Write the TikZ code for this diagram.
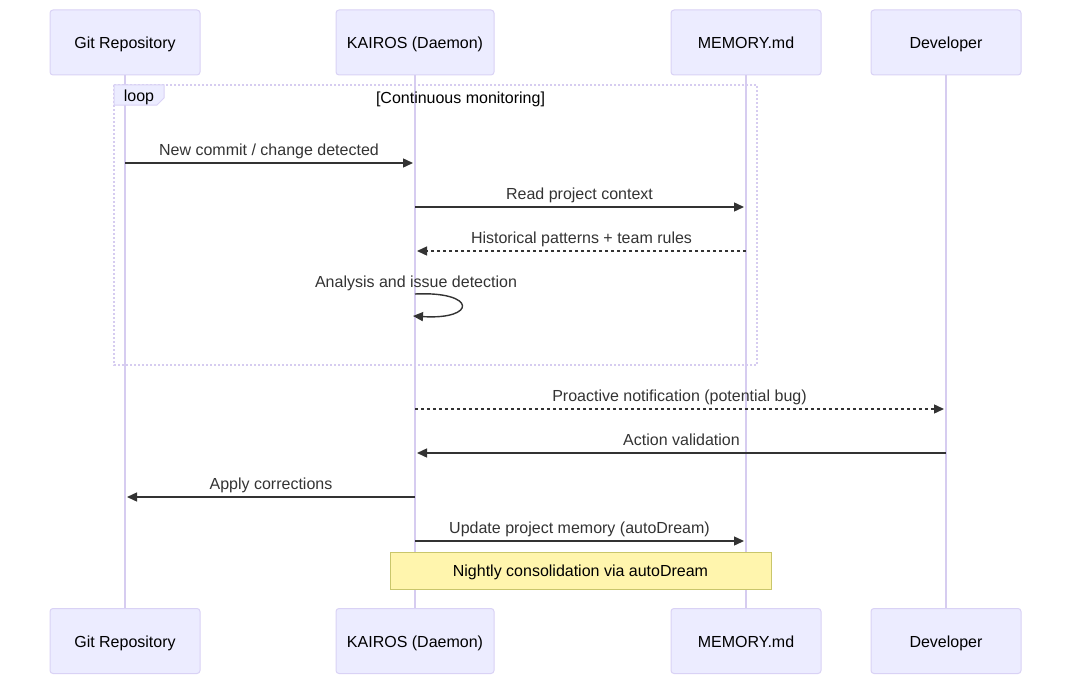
\documentclass[tikz,border=0pt]{standalone}
\usepackage{fontspec}
\setmainfont{Liberation Sans}
\usetikzlibrary{arrows.meta}
\definecolor{actfill}{HTML}{ECECFF}
\definecolor{actdraw}{HTML}{D9D2F5}
\definecolor{life}{HTML}{D6CCF0}
\definecolor{msg}{HTML}{333333}
\definecolor{notefill}{HTML}{FFF5AD}
\definecolor{notedraw}{HTML}{C9C66B}
\begin{document}
\begin{tikzpicture}[x=1pt,y=-1pt,
  font=\fontsize{16}{19}\selectfont,
  actor/.style={draw=actdraw, fill=actfill, rounded corners=3pt, minimum width=150pt, minimum height=65pt, line width=1pt, text=black, inner sep=0pt, text height=12pt, text depth=0pt},
  lifeline/.style={draw=life, line width=1.4pt},
  msgline/.style={draw=msg, line width=1.4pt, -{Triangle[length=10pt,width=9pt]}},
  dashmsg/.style={msgline, dash pattern=on 3pt off 3pt},
  msglabel/.style={anchor=base, yshift=8pt, text=msg, inner sep=0pt},
  loopframe/.style={draw=life, line width=1.6pt, dash pattern=on 2pt off 2pt},
  looptag/.style={draw=actdraw, fill=actfill, line width=1pt},
  notebox/.style={draw=notedraw, fill=notefill, line width=1pt, minimum width=381pt, minimum height=37pt, inner sep=0pt, text=black, text height=12pt, text depth=0pt}
]
\useasboundingbox (0,0) rectangle (1071,685);
% actors top
\node[actor] (gitT) at (125,42.5) {Git Repository};
\node[actor, minimum width=158pt] (kaiT) at (415,42.5) {KAIROS (Daemon)};
\node[actor] (memT) at (746,42.5) {MEMORY.md};
\node[actor] (devT) at (946,42.5) {Developer};
% actors bottom
\node[actor] (gitB) at (125,641) {Git Repository};
\node[actor, minimum width=158pt] (kaiB) at (415,641) {KAIROS (Daemon)};
\node[actor] (memB) at (746,641) {MEMORY.md};
\node[actor] (devB) at (946,641) {Developer};
% lifelines
\draw[lifeline] (gitT.south) -- (gitB.north);
\draw[lifeline] (kaiT.south) -- (kaiB.north);
\draw[lifeline] (memT.south) -- (memB.north);
\draw[lifeline] (devT.south) -- (devB.north);
% loop frame
\coordinate (lpA) at (114,85);
\coordinate (lpB) at (757,365);
\draw[loopframe] (lpA) rectangle (lpB);
\draw[looptag] (114,85) -- (164,85) -- (164,98) -- (157,105) -- (114,105) -- cycle;
\node[inner sep=0pt, text=black, anchor=base] (looplbl) at (139,102) {loop};
\node[inner sep=0pt, text=black, anchor=base] (loopcond) at (460.5,103.5) {[Continuous monitoring]};
% messages
\coordinate (m1s) at (125,163); \coordinate (m1e) at (413,163);
\draw[msgline] (m1s) -- node[msglabel] (t1) {New commit / change detected} (m1e);
\coordinate (m2s) at (415,207); \coordinate (m2e) at (744,207);
\draw[msgline] (m2s) -- node[msglabel] (t2) {Read project context} (m2e);
\coordinate (m3s) at (746,251); \coordinate (m3e) at (417,251);
\draw[dashmsg] (m3s) -- node[msglabel] (t3) {Historical patterns + team rules} (m3e);
\node[anchor=base, inner sep=0pt, text=msg] (t4) at (416,287) {Analysis and issue detection};
\coordinate (m4s) at (415,294); \coordinate (m4e) at (413,316);
\draw[msgline] (m4s) .. controls (477,291) and (477,320) .. (m4e);
\coordinate (m5s) at (415,409); \coordinate (m5e) at (944,409);
\draw[dashmsg] (m5s) -- node[msglabel] (t5) {Proactive notification (potential bug)} (m5e);
\coordinate (m6s) at (946,453); \coordinate (m6e) at (417,453);
\draw[msgline] (m6s) -- node[msglabel] (t6) {Action validation} (m6e);
\coordinate (m7s) at (415,497); \coordinate (m7e) at (127,497);
\draw[msgline] (m7s) -- node[msglabel] (t7) {Apply corrections} (m7e);
\coordinate (m8s) at (415,541); \coordinate (m8e) at (744,541);
\draw[msgline] (m8s) -- node[msglabel] (t8) {Update project memory (autoDream)} (m8e);
% note
\node[notebox] (note) at (580.5,570.5) {Nightly consolidation via autoDream};
\end{tikzpicture}
\end{document}
